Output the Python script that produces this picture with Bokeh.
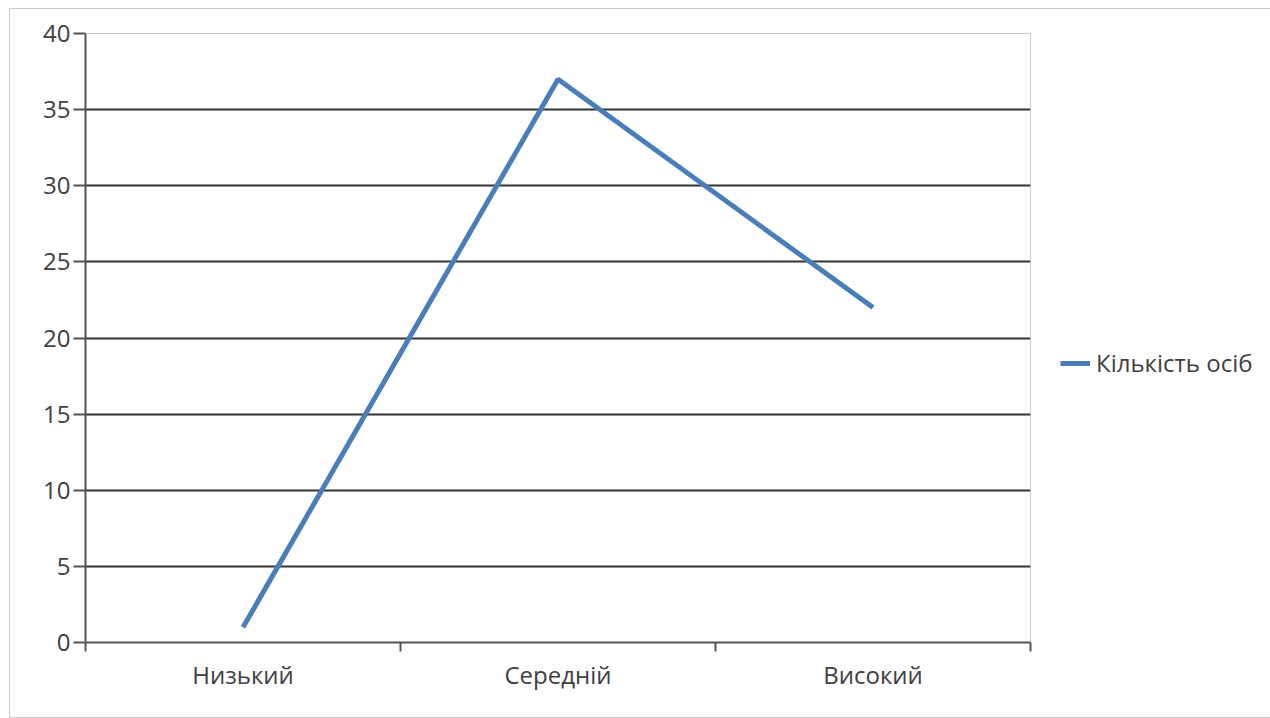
from bokeh.plotting import figure
from bokeh.models import FixedTicker, Legend, LegendItem, Range1d
from bokeh.embed import file_html
from bokeh.resources import INLINE

categories = ["Низький", "Середній", "Високий"]
values = [1, 37, 22]
series_name = "Кількість осіб"
y_ticks = [0, 5, 10, 15, 20, 25, 30, 35, 40]

xs = [i + 0.5 for i in range(len(categories))]

p = figure(frame_width=945, frame_height=609, output_backend="svg", toolbar_location=None,
           x_range=Range1d(0, len(categories)), y_range=Range1d(0, 40),
           min_border_left=75, min_border_right=233, min_border_top=24, min_border_bottom=75)
p.margin = (8, 0, 0, 9)
p.styles = {"border": "1px solid #c8c8c8"}

r = p.line(xs, values, line_color="#4a7ebb", line_width=5)

FONT = "Open Sans"
FS = "24px"
# x axis
p.xaxis.ticker = FixedTicker(ticks=xs, minor_ticks=list(range(len(categories) + 1)))
p.xaxis.major_label_overrides = {x: c for x, c in zip(xs, categories)}
p.xaxis.major_tick_out = 0
p.xaxis.major_tick_in = 0
p.xaxis.minor_tick_out = 9
p.xaxis.minor_tick_in = 0
p.xaxis.minor_tick_line_width = 2
p.xaxis.minor_tick_line_color = "#555555"
p.xaxis.axis_line_color = "#555555"
p.xaxis.axis_line_width = 2
p.xaxis.major_label_standoff = 6
p.xaxis.major_label_text_font = FONT
p.xaxis.major_label_text_font_size = FS
p.xaxis.major_label_text_color = "#404040"

# y axis
p.yaxis.ticker = FixedTicker(ticks=y_ticks, minor_ticks=[])
p.yaxis.major_tick_out = 12
p.yaxis.major_tick_in = 0
p.yaxis.major_tick_line_width = 2
p.yaxis.major_tick_line_color = "#555555"
p.yaxis.axis_line_color = "#555555"
p.yaxis.axis_line_width = 2
p.yaxis.major_label_standoff = 3
p.yaxis.major_label_text_font = FONT
p.yaxis.major_label_text_font_size = FS
p.yaxis.major_label_text_color = "#404040"

p.xgrid.grid_line_color = None
p.ygrid.grid_line_color = "#333333"
p.ygrid.grid_line_width = 2

p.outline_line_color = "#c8c8c8"
p.outline_line_width = 1

legend = Legend(items=[LegendItem(label=series_name, renderers=[r])], location=(30, 263),
                label_text_font=FONT, label_text_font_size=FS, label_text_color="#404040",
                glyph_width=30, label_standoff=6, margin=0, padding=0,
                border_line_color=None, background_fill_alpha=0)
p.add_layout(legend, "right")

open("out.html", "w").write(file_html(p, INLINE))
